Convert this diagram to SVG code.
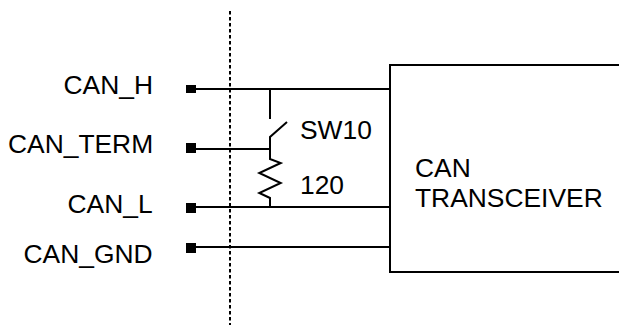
<svg xmlns="http://www.w3.org/2000/svg" width="619" height="325" viewBox="0 0 619 325">
<style>
text{font-family:"Liberation Sans",Arial,sans-serif;font-size:26.400px;fill:#000}
.l{fill:none;stroke:#000;stroke-width:2}
.p{fill:#000}
</style>
<rect width="619" height="325" fill="#fff"/>
<line x1="230" y1="11" x2="230" y2="325" stroke="#000" stroke-width="2" stroke-dasharray="3.500 2.500"/>
<g id="connectors">
<path class="l" d="M190 89H390M190 149H270M190 207H390M190 247H390"/>
<path class="l" d="M270 89V119M287 122L270 137V159L280.700 163L259.300 173L280.700 183L259.300 193L270 198V207"/>
</g>
<g id="pins">
<rect class="p" x="186" y="85" width="10" height="8"/>
<rect class="p" x="186" y="143" width="10" height="10"/>
<rect class="p" x="186" y="203" width="10" height="10"/>
<rect class="p" x="186" y="243" width="10" height="10"/>
</g>
<g id="transceiver"><path class="l" d="M619 65H390V272H619"/>
<text x="415" y="177">CAN</text><text x="415" y="207">TRANSCEIVER</text></g>
<g id="can-h"><text x="63.500" y="93.500">CAN_H</text></g>
<g id="can-term"><text x="8" y="153">CAN_TERM</text></g>
<g id="can-l"><text x="67.500" y="213">CAN_L</text></g>
<g id="can-gnd"><text x="23.500" y="263">CAN_GND</text></g>
<g id="sw10"><text x="300" y="139">SW10</text></g>
<g id="r120"><text x="300" y="193.500">120</text></g>
</svg>
